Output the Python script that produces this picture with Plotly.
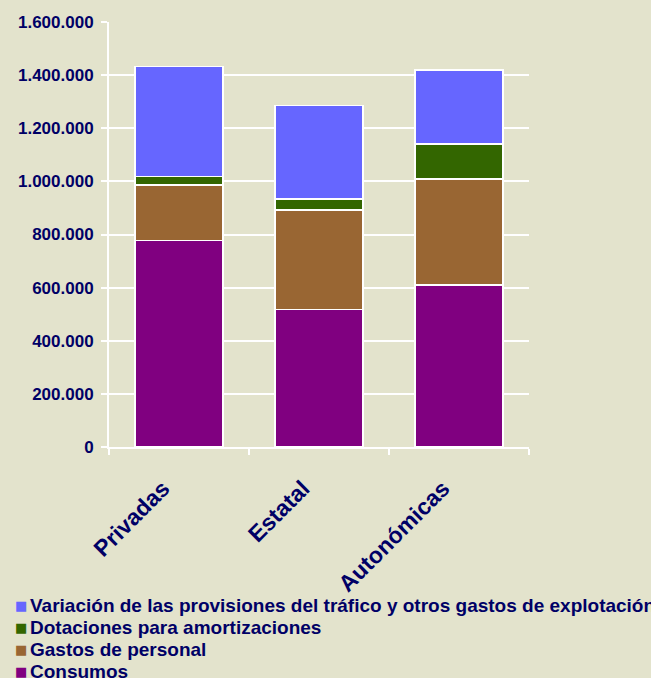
import plotly.graph_objects as go

categories = ["Privadas", "Estatal", "Autonómicas"]

consumos = [777000, 518000, 610000]
gastos_personal = [210000, 374000, 399000]
dotaciones = [31000, 42000, 131000]
variacion = [415000, 352000, 280000]

series_names = [
    "Consumos",
    "Gastos de personal",
    "Dotaciones para amortizaciones",
    "Variación de las provisiones del tráfico y otros gastos de explotación",
]
series_values = [consumos, gastos_personal, dotaciones, variacion]
series_colors = ["#800080", "#996633", "#336600", "#6666FF"]

tick_vals = [0, 200000, 400000, 600000, 800000, 1000000, 1200000, 1400000, 1600000]
tick_text = ["0", "200.000", "400.000", "600.000", "800.000",
             "1.000.000", "1.200.000", "1.400.000", "1.600.000"]

BG = "#E3E3CC"
NAVY = "#000066"
FONT = "Liberation Sans, Arial, sans-serif"

W, H = 651, 678
L, R, T, B = 109, 122, 22, 231
PW, PH = W - L - R, H - T - B

fig = go.Figure()
for name, vals, col in zip(series_names, series_values, series_colors):
    fig.add_trace(go.Bar(
        x=categories, y=vals, name=name,
        marker=dict(color=col, line=dict(color="white", width=1.5)),
    ))

fig.update_layout(
    barmode="stack",
    bargap=0.37,
    width=W, height=H,
    paper_bgcolor=BG, plot_bgcolor=BG,
    margin=dict(l=L, r=R, t=T, b=B, autoexpand=False),
    font=dict(family=FONT, color=NAVY),
    showlegend=False,
)

# Excel-style legend below the chart: stacked top-down, last series first
for i, (name, col) in enumerate(zip(series_names[::-1], series_colors[::-1])):
    yc = (T + PH - (605 + 22.3 * i)) / PH
    fig.add_annotation(
        xref="paper", yref="paper", x=(21 - L) / PW, y=yc,
        xanchor="center", yanchor="middle", showarrow=False,
        text="■", font=dict(size=13, color=col, family="DejaVu Sans"),
    )
    fig.add_annotation(
        xref="paper", yref="paper", x=(28 - L) / PW, y=yc,
        xanchor="left", yanchor="middle", showarrow=False,
        text=name, font=dict(size=19, color=NAVY, family=FONT, weight="bold"),
    )

fig.update_yaxes(
    range=[0, 1600000],
    tickvals=tick_vals, ticktext=tick_text,
    showgrid=True, gridcolor="white", gridwidth=2,
    showline=True, linecolor="white", linewidth=2,
    ticks="outside", ticklen=6, tickcolor="white", tickwidth=2,
    ticklabelstandoff=4,
    tickfont=dict(size=17, color=NAVY, family=FONT, weight="bold"),
    zeroline=False, automargin=False,
)
fig.update_xaxes(
    tickangle=-45,
    showline=True, linecolor="white", linewidth=2,
    ticks="outside", ticklen=6, tickcolor="white", tickwidth=2,
    tickson="boundaries",
    ticklabelstandoff=17, ticklabelshift=-16,
    tickfont=dict(size=23, color=NAVY, family=FONT, weight="bold"),
    automargin=False,
)

# strip the default page margin so the figure sits at the window's corner
fig.write_html(
    "out.html",
    config={"displayModeBar": False},
    post_script="document.body.style.margin='0';",
)
